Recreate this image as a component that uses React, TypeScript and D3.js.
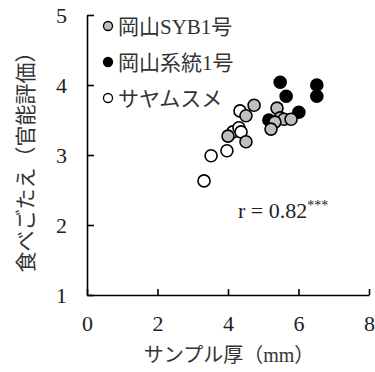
import React, { useEffect, useRef } from "react";
import * as d3 from "d3";

// 岡山SYB1号 (gray)
const sybX = [4.74, 4.51, 5.39, 5.48, 5.59, 5.79, 5.33, 5.22, 4.0, 4.51];
const sybY = [3.71, 3.56, 3.67, 3.53, 3.51, 3.51, 3.47, 3.37, 3.27, 3.19];
// 岡山系統1号 (black)
const keitoX = [5.48, 6.52, 5.65, 6.52, 6.01, 5.16];
const keitoY = [4.04, 4.0, 3.84, 3.84, 3.61, 3.5];
// サヤムスメ (white)
const sayaX = [4.34, 4.14, 4.31, 4.37, 3.97, 3.52, 3.32];
const sayaY = [3.63, 3.33, 3.39, 3.33, 3.06, 2.99, 2.63];

const xTicks = [0, 2, 4, 6, 8];
const yTicks = [1, 2, 3, 4, 5];

const series = [
  { name: "岡山系統1号", xs: keitoX, ys: keitoY, fill: "#000000" },
  { name: "サヤムスメ", xs: sayaX, ys: sayaY, fill: "#ffffff" },
  { name: "岡山SYB1号", xs: sybX, ys: sybY, fill: "#bfbfbf" },
];
const legendItems = [
  { name: "岡山SYB1号", fill: "#bfbfbf" },
  { name: "岡山系統1号", fill: "#000000" },
  { name: "サヤムスメ", fill: "#ffffff" },
];

const serif = "'Liberation Serif', 'Noto Sans CJK JP', serif";

const App = () => {
  const svgRef = useRef<SVGSVGElement>(null);

  useEffect(() => {
    const svg = d3.select(svgRef.current);
    svg.selectAll("*").remove();

    const x = d3.scaleLinear().domain([0, 8]).range([87, 369]);
    const y = d3.scaleLinear().domain([1, 5]).range([295, 15]);

    // axes with inward ticks
    const yAxis = svg
      .append("g")
      .attr("transform", "translate(87,0)")
      .call(
        d3.axisLeft(y).tickValues(yTicks).tickFormat(d3.format("d"))
          .tickSizeInner(-7).tickSizeOuter(0).tickPadding(20)
      );
    const xAxis = svg
      .append("g")
      .attr("transform", "translate(0,295)")
      .call(
        d3.axisBottom(x).tickValues(xTicks).tickFormat(d3.format("d"))
          .tickSizeInner(-6).tickSizeOuter(0).tickPadding(20)
      );

    [yAxis, xAxis].forEach((g) => {
      g.selectAll("path, line").attr("stroke", "#000").attr("stroke-width", 1.6);
      g.selectAll("text")
        .attr("font-family", serif)
        .attr("font-size", 22)
        .attr("fill", "#222");
    });

    // points
    series.forEach((s) => {
      svg
        .append("g")
        .selectAll("circle")
        .data(s.xs.map((v, i) => [v, s.ys[i]]))
        .enter()
        .append("circle")
        .attr("cx", (d) => x(d[0]))
        .attr("cy", (d) => y(d[1]))
        .attr("r", 6)
        .attr("fill", s.fill)
        .attr("stroke", "#000")
        .attr("stroke-width", 1.6);
    });

    // legend
    const legend = svg.append("g");
    legendItems.forEach((item, i) => {
      const cy = 26 + i * 36;
      legend
        .append("circle")
        .attr("cx", 108)
        .attr("cy", cy)
        .attr("r", 4.5)
        .attr("fill", item.fill)
        .attr("stroke", "#000")
        .attr("stroke-width", 1.3);
      legend
        .append("text")
        .attr("x", 118)
        .attr("y", cy)
        .attr("dy", "0.36em")
        .attr("font-family", serif)
        .attr("font-size", 21)
        .attr("fill", "#333")
        .text(item.name);
    });

    // correlation label
    const r = svg
      .append("text")
      .attr("x", 238)
      .attr("y", 218)
      .attr("font-family", serif)
      .attr("font-size", 22)
      .attr("fill", "#222");
    r.append("tspan").text("r = 0.82");
    r.append("tspan").attr("font-size", 14).attr("dy", -8).text("***");

    // axis titles
    svg
      .append("text")
      .attr("x", 229)
      .attr("y", 362)
      .attr("text-anchor", "middle")
      .attr("font-family", serif)
      .attr("font-size", 20)
      .attr("fill", "#333")
      .text("サンプル厚（mm）");
    svg
      .append("text")
      .attr("transform", "translate(33,157) rotate(-90)")
      .attr("text-anchor", "middle")
      .attr("font-family", serif)
      .attr("font-size", 21)
      .attr("fill", "#333")
      .text("食べごたえ（官能評価）");
  }, []);

  return (
    <svg
      ref={svgRef}
      width={375}
      height={372}
      style={{ position: "absolute", left: 0, top: 0, background: "#fff" }}
    />
  );
};

export default App;
